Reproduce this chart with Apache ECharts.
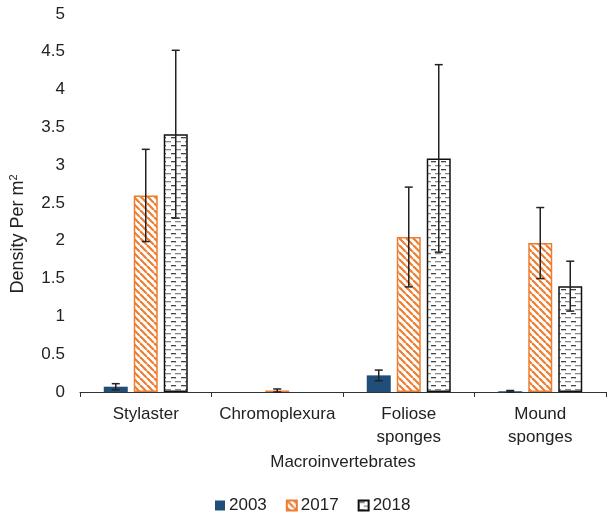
<!DOCTYPE html>
<html>
<head>
<meta charset="utf-8">
<script src="https://cdn.jsdelivr.net/npm/echarts@6/dist/echarts.min.js"></script>
<style>
  html, body { margin: 0; padding: 0; background: #fff; }
  #container { width: 608px; height: 519px; }
</style>
</head>
<body>
<div id="container"></div>
<script>
var categories = ['Stylaster', 'Chromoplexura', 'Foliose\nsponges', 'Mound\nsponges'];
var years = ['2003', '2017', '2018'];
var yTicks = ['0', '0.5', '1', '1.5', '2', '2.5', '3', '3.5', '4', '4.5', '5'];

var d2003 = [0.07, 0, 0.22, 0.01];
var e2003 = [0.04, 0, 0.07, 0.01];
var d2017 = [2.60, 0.02, 2.05, 1.97];
var e2017 = [0.61, 0.02, 0.66, 0.47];
var d2018 = [3.41, 0, 3.09, 1.40];
var e2018 = [1.11, 0, 1.24, 0.33];

var barW = 24;
var barGapPx = 6;

// orange diagonal stripes
function stripePattern() {
    var c = document.createElement('canvas');
    c.width = 7; c.height = 7;
    var ctx = c.getContext('2d');
    ctx.fillStyle = '#fff';
    ctx.fillRect(0, 0, 7, 7);
    ctx.strokeStyle = '#ed7d31';
    ctx.lineWidth = 2.2;
    [-7, 0, 7].forEach(function (o) {
        ctx.beginPath();
        ctx.moveTo(o, 0);
        ctx.lineTo(o + 7, 7);
        ctx.stroke();
    });
    return c;
}

// small horizontal dashes, rows offset
function dashPattern() {
    var c = document.createElement('canvas');
    c.width = 10; c.height = 8;
    var ctx = c.getContext('2d');
    ctx.fillStyle = '#fff';
    ctx.fillRect(0, 0, 10, 8);
    ctx.fillStyle = '#444';
    ctx.fillRect(1, 1, 5, 1.3);
    ctx.fillStyle = '#888';
    ctx.fillRect(5, 5, 5, 1.3);
    ctx.fillRect(0, 5, 1, 1.3);
    return c;
}

function nz(arr) {
    return arr.map(function (v) { return v === 0 ? '-' : v; });
}

function errSeries(idx, vals, errs) {
    return {
        type: 'custom',
        name: 'err' + years[idx],
        z: 10,
        silent: true,
        data: vals.map(function (v, i) { return [i, v, errs[i]]; }),
        renderItem: function (params, api) {
            var x = api.value(0), v = api.value(1), e = api.value(2);
            if (!e) return;
            var off = (idx - 1) * (barW + barGapPx);
            var cx = api.coord([x, v])[0] + off;
            var hi = api.coord([x, v + e])[1];
            var lo = api.coord([x, Math.max(0, v - e)])[1];
            var st = { stroke: '#222', lineWidth: 1.5 };
            return {
                type: 'group',
                children: [
                    { type: 'line', shape: { x1: cx, y1: hi, x2: cx, y2: lo }, style: st },
                    { type: 'line', shape: { x1: cx - 4, y1: hi, x2: cx + 4, y2: hi }, style: st },
                    { type: 'line', shape: { x1: cx - 4, y1: lo, x2: cx + 4, y2: lo }, style: st }
                ]
            };
        }
    };
}

var chart = echarts.init(document.getElementById('container'), null, { renderer: 'canvas' });

var textColor = '#222';
var option = {
    animation: false,
    textStyle: { fontFamily: 'Liberation Sans' },
    grid: { left: 80, right: 2, top: 14, bottom: 127, outerBoundsMode: 'none' },
    legend: {
        data: years,
        bottom: 5,
        left: 215,
        padding: 0,
        icon: 'rect',
        itemWidth: 10,
        itemHeight: 10,
        itemGap: 19,
        textStyle: { fontSize: 17, color: textColor, padding: [0, 0, 0, -1] }
    },
    xAxis: {
        type: 'category',
        data: categories,
        name: 'Macroinvertebrates',
        nameLocation: 'middle',
        nameGap: 62,
        nameTextStyle: { fontSize: 17, color: textColor },
        axisLine: { lineStyle: { color: '#333', width: 1.2 } },
        axisTick: { show: true, length: 5, lineStyle: { color: '#333' } },
        axisLabel: { fontSize: 17, color: textColor, margin: 11, lineHeight: 23, interval: 0 }
    },
    yAxis: {
        type: 'value',
        min: 0,
        max: 5,
        interval: 0.5,
        name: 'Density Per m{sup|2}',
        nameLocation: 'middle',
        nameRotate: 90,
        nameGap: 52,
        nameTextStyle: {
            fontSize: 18, color: textColor,
            padding: [0, 62, 0, 0],
            rich: { sup: { fontSize: 11, verticalAlign: 'top', padding: [0, 0, 9, 0], color: textColor } }
        },
        axisLine: { show: false },
        axisTick: { show: false },
        splitLine: { show: false },
        axisLabel: {
            fontSize: 17, color: textColor, margin: 15,
            formatter: function (v) { return yTicks[Math.round(v * 2)]; }
        }
    },
    series: [
        {
            name: '2003', type: 'bar', data: nz(d2003),
            barWidth: barW, barGap: '25%',
            itemStyle: { color: '#1f4e79' }
        },
        {
            name: '2017', type: 'bar', data: nz(d2017),
            barWidth: barW, barGap: '25%',
            itemStyle: { color: { image: stripePattern(), repeat: 'repeat' }, borderColor: '#ed7d31', borderWidth: 1.5 }
        },
        {
            name: '2018', type: 'bar', data: nz(d2018),
            barWidth: barW, barGap: '25%',
            itemStyle: { color: { image: dashPattern(), repeat: 'repeat' }, borderColor: '#111', borderWidth: 1.5 }
        },
        errSeries(0, d2003, e2003),
        errSeries(1, d2017, e2017),
        errSeries(2, d2018, e2018)
    ]
};

chart.setOption(option);
</script>
</body>
</html>
